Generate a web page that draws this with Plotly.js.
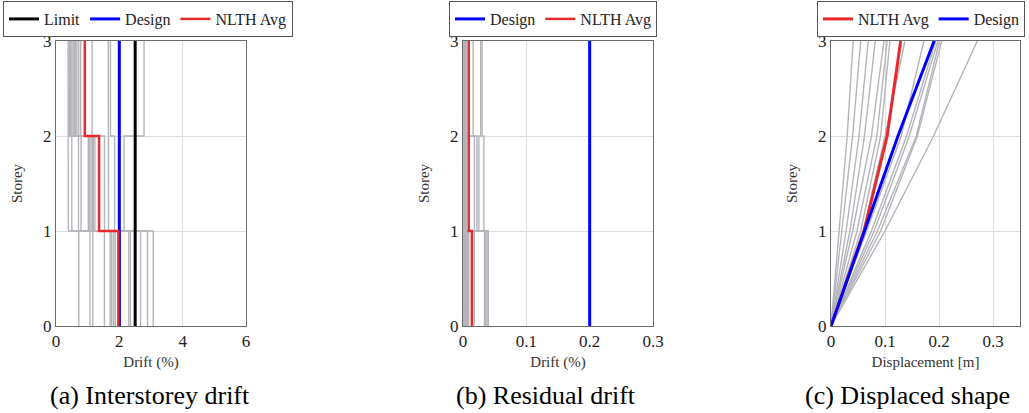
<!DOCTYPE html>
<html>
<head>
<meta charset="utf-8">
<script src="https://cdn.plot.ly/plotly-3.0.1.min.js"></script>
<style>html,body{margin:0;padding:0;background:#fff;}#chart{width:1029px;height:413px;}</style>
</head>
<body>
<div id="chart"></div>
<script>
// ---- Data ----
const storeyLevels = [0, 1, 2, 3];

// (a) Interstorey drift (%), one value per record for each storey
const driftStorey1 = [0.72, 1.07, 1.16, 1.53, 1.71, 1.76, 1.82, 1.87, 2.03, 2.30, 2.35, 2.67, 2.89, 3.07];
const driftStorey2 = [0.39, 0.50, 0.71, 0.79, 1.02, 1.06, 1.11, 1.15, 1.18, 1.23, 1.53, 1.66, 1.85, 2.15];
const driftStorey3 = [0.38, 0.42, 0.46, 0.50, 0.54, 0.58, 0.62, 0.66, 0.72, 0.78, 1.14, 1.65, 1.72, 2.78];
const driftLimit = [2.5, 2.5, 2.5];
const driftDesign = [2.0, 2.0, 2.0];
const driftAvg = [1.97, 1.36, 0.91];

// (b) Residual drift (%)
const resStorey1 = [0.001, 0.002, 0.003, 0.004, 0.005, 0.006, 0.007, 0.008, 0.009, 0.018, 0.034, 0.036, 0.038, 0.040];
const resStorey2 = [0.001, 0.001, 0.002, 0.002, 0.003, 0.003, 0.004, 0.004, 0.005, 0.005, 0.018, 0.022, 0.025, 0.033];
const resStorey3 = [0.001, 0.001, 0.002, 0.002, 0.003, 0.003, 0.004, 0.004, 0.005, 0.005, 0.010, 0.016, 0.028, 0.030];
const resDesign = [0.2, 0.2, 0.2];
const resAvg = [0.014, 0.009, 0.009];

// (c) Displaced shape (m) at storeys 1..3 (base = 0)
const dispStorey1 = [0.015, 0.020, 0.028, 0.035, 0.040, 0.048, 0.055, 0.060, 0.066, 0.075, 0.080, 0.086, 0.092, 0.100];
const dispStorey2 = [0.030, 0.040, 0.052, 0.062, 0.075, 0.085, 0.092, 0.100, 0.130, 0.140, 0.145, 0.158, 0.160, 0.190];
const dispStorey3 = [0.041, 0.055, 0.069, 0.082, 0.098, 0.104, 0.109, 0.137, 0.172, 0.194, 0.198, 0.201, 0.205, 0.271];
const dispAvg = [0.061, 0.104, 0.129];
const dispDesign = [0.062, 0.124, 0.191];

// ---- Styles ----
const GREY = '#b3b5ba', RED = '#e8292c', BLUE = '#0000ff', BLACK = '#000000';
const FONT = 'Liberation Serif';

function stepXY(v) { // constant-per-storey profile
  const x = [], y = [];
  v.forEach((d, i) => { x.push(d, d); y.push(storeyLevels[i], storeyLevels[i + 1]); });
  return {x, y};
}
function shapeXY(v) {
  return {x: [0].concat(v), y: storeyLevels.slice()};
}

const traces = [];
// Panel a
driftStorey1.forEach((d, i) => {
  const q = stepXY([d, driftStorey2[i], driftStorey3[i]]);
  traces.push({x: q.x, y: q.y, xaxis: 'x', yaxis: 'y', mode: 'lines', line: {color: GREY, width: 1.4}, showlegend: false, hoverinfo: 'skip'});
});
let s;
s = stepXY(driftLimit);
traces.push({x: s.x, y: s.y, xaxis: 'x', yaxis: 'y', mode: 'lines', name: 'Limit', line: {color: BLACK, width: 3}, legend: 'legend'});
s = stepXY(driftDesign);
traces.push({x: s.x, y: s.y, xaxis: 'x', yaxis: 'y', mode: 'lines', name: 'Design', line: {color: BLUE, width: 3}, legend: 'legend'});
s = stepXY(driftAvg);
traces.push({x: s.x, y: s.y, xaxis: 'x', yaxis: 'y', mode: 'lines', name: 'NLTH Avg', line: {color: RED, width: 2.5}, legend: 'legend'});

// Panel b
resStorey1.forEach((d, i) => {
  const q = stepXY([d, resStorey2[i], resStorey3[i]]);
  traces.push({x: q.x, y: q.y, xaxis: 'x2', yaxis: 'y2', mode: 'lines', line: {color: GREY, width: 1.4}, showlegend: false, hoverinfo: 'skip'});
});
s = stepXY(resDesign);
traces.push({x: s.x, y: s.y, xaxis: 'x2', yaxis: 'y2', mode: 'lines', name: 'Design', line: {color: BLUE, width: 3}, legend: 'legend2'});
s = stepXY(resAvg);
traces.push({x: s.x, y: s.y, xaxis: 'x2', yaxis: 'y2', mode: 'lines', name: 'NLTH Avg', line: {color: RED, width: 2.5}, legend: 'legend2'});

// Panel c
dispStorey1.forEach((d, i) => {
  const q = shapeXY([d, dispStorey2[i], dispStorey3[i]]);
  traces.push({x: q.x, y: q.y, xaxis: 'x3', yaxis: 'y3', mode: 'lines', line: {color: GREY, width: 1.4}, showlegend: false, hoverinfo: 'skip'});
});
s = shapeXY(dispAvg);
traces.push({x: s.x, y: s.y, xaxis: 'x3', yaxis: 'y3', mode: 'lines', name: 'NLTH Avg', line: {color: RED, width: 3}, legend: 'legend3'});
s = shapeXY(dispDesign);
traces.push({x: s.x, y: s.y, xaxis: 'x3', yaxis: 'y3', mode: 'lines', name: 'Design', line: {color: BLUE, width: 3}, legend: 'legend3'});

const W = 1029, H = 413;
const yDom = [1 - 326 / H, 1 - 41 / H];
function xax(dom, range, dtick, titleText) {
  return {
    domain: dom, range: range, dtick: dtick, tick0: 0, ticks: '', showgrid: true, gridcolor: '#dedede', gridwidth: 1,
    zeroline: false, showline: true, mirror: true, linecolor: '#6b6b6b', linewidth: 1,
    tickfont: {family: FONT, size: 17, color: '#222'},
    title: {text: titleText, font: {family: FONT, size: 15, color: '#333'}, standoff: 6},
    fixedrange: true
  };
}
function yax() {
  return {
    domain: yDom, range: [0, 3], dtick: 1, tick0: 0, ticks: '', showgrid: true, gridcolor: '#dedede', gridwidth: 1,
    zeroline: false, showline: true, mirror: true, linecolor: '#6b6b6b', linewidth: 1,
    tickfont: {family: FONT, size: 17, color: '#222'},
    title: {text: 'Storey', font: {family: FONT, size: 15, color: '#333'}, standoff: 16},
    fixedrange: true
  };
}
function leg(x) {
  return {x: x / W, y: 1 - 1 / H, xanchor: 'left', yanchor: 'top', orientation: 'h',
    bordercolor: '#555', borderwidth: 1, bgcolor: 'rgba(255,255,255,0)',
    font: {family: FONT, size: 16, color: '#222'}, tracegroupgap: 0, itemwidth: 30};
}

const layout = {
  width: W, height: H, margin: {l: 0, r: 0, t: 0, b: 0},
  font: {family: FONT},
  paper_bgcolor: '#fff', plot_bgcolor: '#fff',
  xaxis: Object.assign(xax([56 / W, 246 / W], [0, 6], 2, 'Drift (%)'), {anchor: 'y'}),
  yaxis: Object.assign(yax(), {anchor: 'x'}),
  xaxis2: Object.assign(xax([463 / W, 653 / W], [0, 0.3], 0.1, 'Drift (%)'), {anchor: 'y2', tickvals: [0, 0.1, 0.2, 0.3], ticktext: ['0', '0.1', '0.2', '0.3']}),
  yaxis2: Object.assign(yax(), {anchor: 'x2'}),
  xaxis3: Object.assign(xax([831 / W, 1020 / W], [0, 0.35], 0.1, 'Displacement [m]'), {anchor: 'y3', tickvals: [0, 0.1, 0.2, 0.3], ticktext: ['0', '0.1', '0.2', '0.3']}),
  yaxis3: Object.assign(yax(), {anchor: 'x3'}),
  legend: leg(3), legend2: leg(449), legend3: leg(817),
  annotations: [
    {text: '(a) Interstorey drift', x: 150 / W, y: 1 - 395 / H, xref: 'paper', yref: 'paper', xanchor: 'center', yanchor: 'middle', showarrow: false, font: {family: FONT, size: 26, color: '#000'}},
    {text: '(b) Residual drift', x: 546 / W, y: 1 - 395 / H, xref: 'paper', yref: 'paper', xanchor: 'center', yanchor: 'middle', showarrow: false, font: {family: FONT, size: 26, color: '#000'}},
    {text: '(c) Displaced shape', x: 907 / W, y: 1 - 395 / H, xref: 'paper', yref: 'paper', xanchor: 'center', yanchor: 'middle', showarrow: false, font: {family: FONT, size: 26, color: '#000'}}
  ]
};

Plotly.newPlot('chart', traces, layout, {displayModeBar: false, staticPlot: true});
</script>
</body>
</html>
